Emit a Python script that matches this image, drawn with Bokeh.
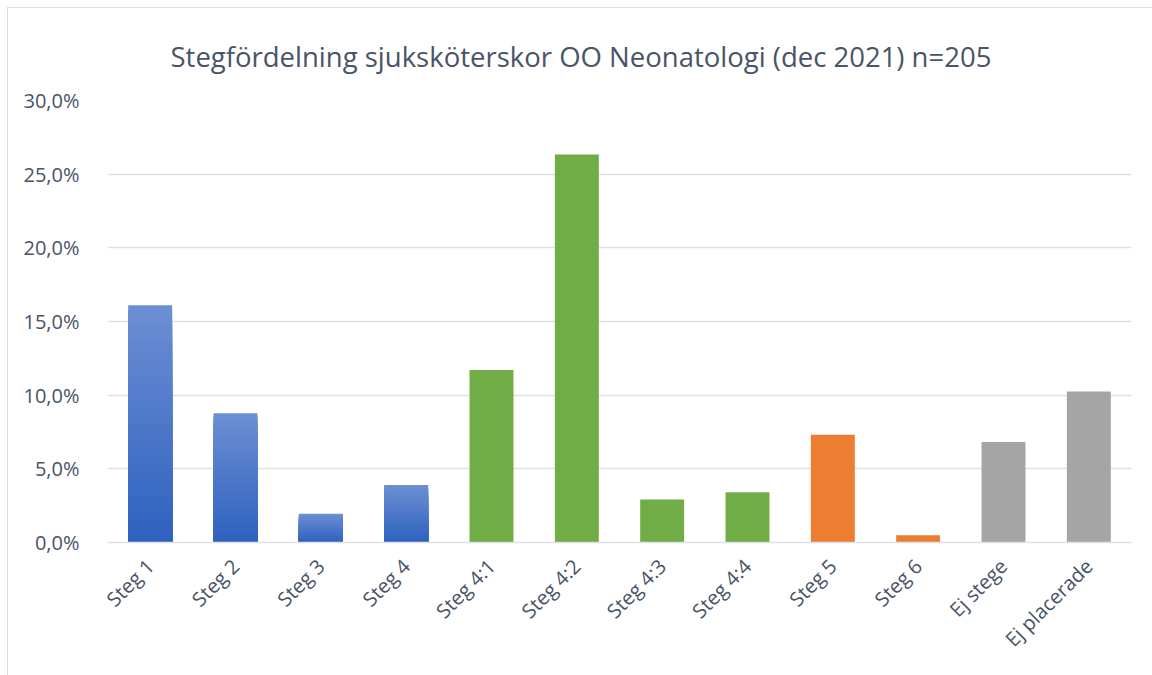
import numpy as np
from bokeh.plotting import figure
from bokeh.models import CustomJSTickFormatter, FixedTicker, Range1d
from bokeh.embed import file_html
from bokeh.resources import INLINE

# ---- data ----
categories = ["Steg 1", "Steg 2", "Steg 3", "Steg 4", "Steg 4:1", "Steg 4:2",
              "Steg 4:3", "Steg 4:4", "Steg 5", "Steg 6", "Ej stege", "Ej placerade"]
counts = [33, 18, 4, 8, 24, 54, 6, 7, 15, 1, 14, 21]
n_total = 205
groups = ["blue", "blue", "blue", "blue", "green", "green", "green", "green",
          "orange", "orange", "gray", "gray"]
y_ticks = [0.0, 0.05, 0.10, 0.15, 0.20, 0.25, 0.30]
title_text = "Stegfördelning sjuksköterskor OO Neonatologi (dec 2021) n=205"

shares = [c / n_total for c in counts]

TEXT = "#485467"
GRID = "#DEE2E8"
FONT = "Open Sans"
solid = {"green": "#70AD47", "orange": "#ED7D31", "gray": "#A5A5A5"}
blue_top = np.array([108, 142, 212])
blue_bot = np.array([46, 98, 190])

p = figure(x_range=categories, y_range=Range1d(0, 0.30),
           width=1145, height=668, output_backend="svg", toolbar_location=None,
           min_border_left=99, min_border_right=22, min_border_top=92,
           min_border_bottom=134, title=title_text)
p.styles = {"margin-left": "7px", "margin-top": "7px",
            "border-left": "1px solid #D9DEE4", "border-top": "1px solid #D9DEE4"}
p.outline_line_color = None
p.background_fill_color = "white"
p.border_fill_color = "white"

p.title.align = "left"
p.title.offset = 63
p.title.standoff = 52
p.title.text_line_height = 0.6
p.title.text_font = FONT
p.title.text_font_size = "27.5px"
p.title.text_font_style = "normal"
p.title.text_color = TEXT

W = 0.515
# gradient blue bars: layered bars derived from the data
N = 40
blue_cats = [c for c, g in zip(categories, groups) if g == "blue"]
blue_vals = [s for s, g in zip(shares, groups) if g == "blue"]
for k in range(N):
    t = k / (N - 1)
    col = blue_top * (1 - t) + blue_bot * t
    hexcol = "#%02x%02x%02x" % tuple(int(round(v)) for v in col)
    tops = [v * (N - k) / N for v in blue_vals]
    p.vbar(x=blue_cats, top=tops, width=W, fill_color=hexcol, line_color=None)

for g, col in solid.items():
    cats = [c for c, gg in zip(categories, groups) if gg == g]
    vals = [s for s, gg in zip(shares, groups) if gg == g]
    p.vbar(x=cats, top=vals, width=W, fill_color=col, line_color=None)

# axes
p.yaxis.ticker = FixedTicker(ticks=y_ticks)
p.yaxis.formatter = CustomJSTickFormatter(
    code="return (tick*100).toFixed(1).replace('.', ',') + '%';")
p.yaxis.axis_line_color = None
p.yaxis.major_tick_line_color = None
p.yaxis.minor_tick_line_color = None
p.yaxis.major_label_text_font = FONT
p.yaxis.major_label_text_font_size = "20px"
p.yaxis.major_label_text_color = TEXT
p.yaxis.major_label_standoff = 22

p.xaxis.axis_line_color = GRID
p.xaxis.axis_line_width = 1.5
p.xaxis.major_tick_line_color = None
p.xaxis.minor_tick_line_color = None
p.xaxis.major_label_orientation = np.pi / 4
p.xaxis.major_label_text_font = FONT
p.xaxis.major_label_text_font_size = "20px"
p.xaxis.major_label_text_color = TEXT
p.xaxis.major_label_standoff = 14

p.xgrid.grid_line_color = None
p.ygrid.grid_line_color = GRID
p.ygrid.grid_line_width = 1.5

open("out.html", "w").write(file_html(p, INLINE))
